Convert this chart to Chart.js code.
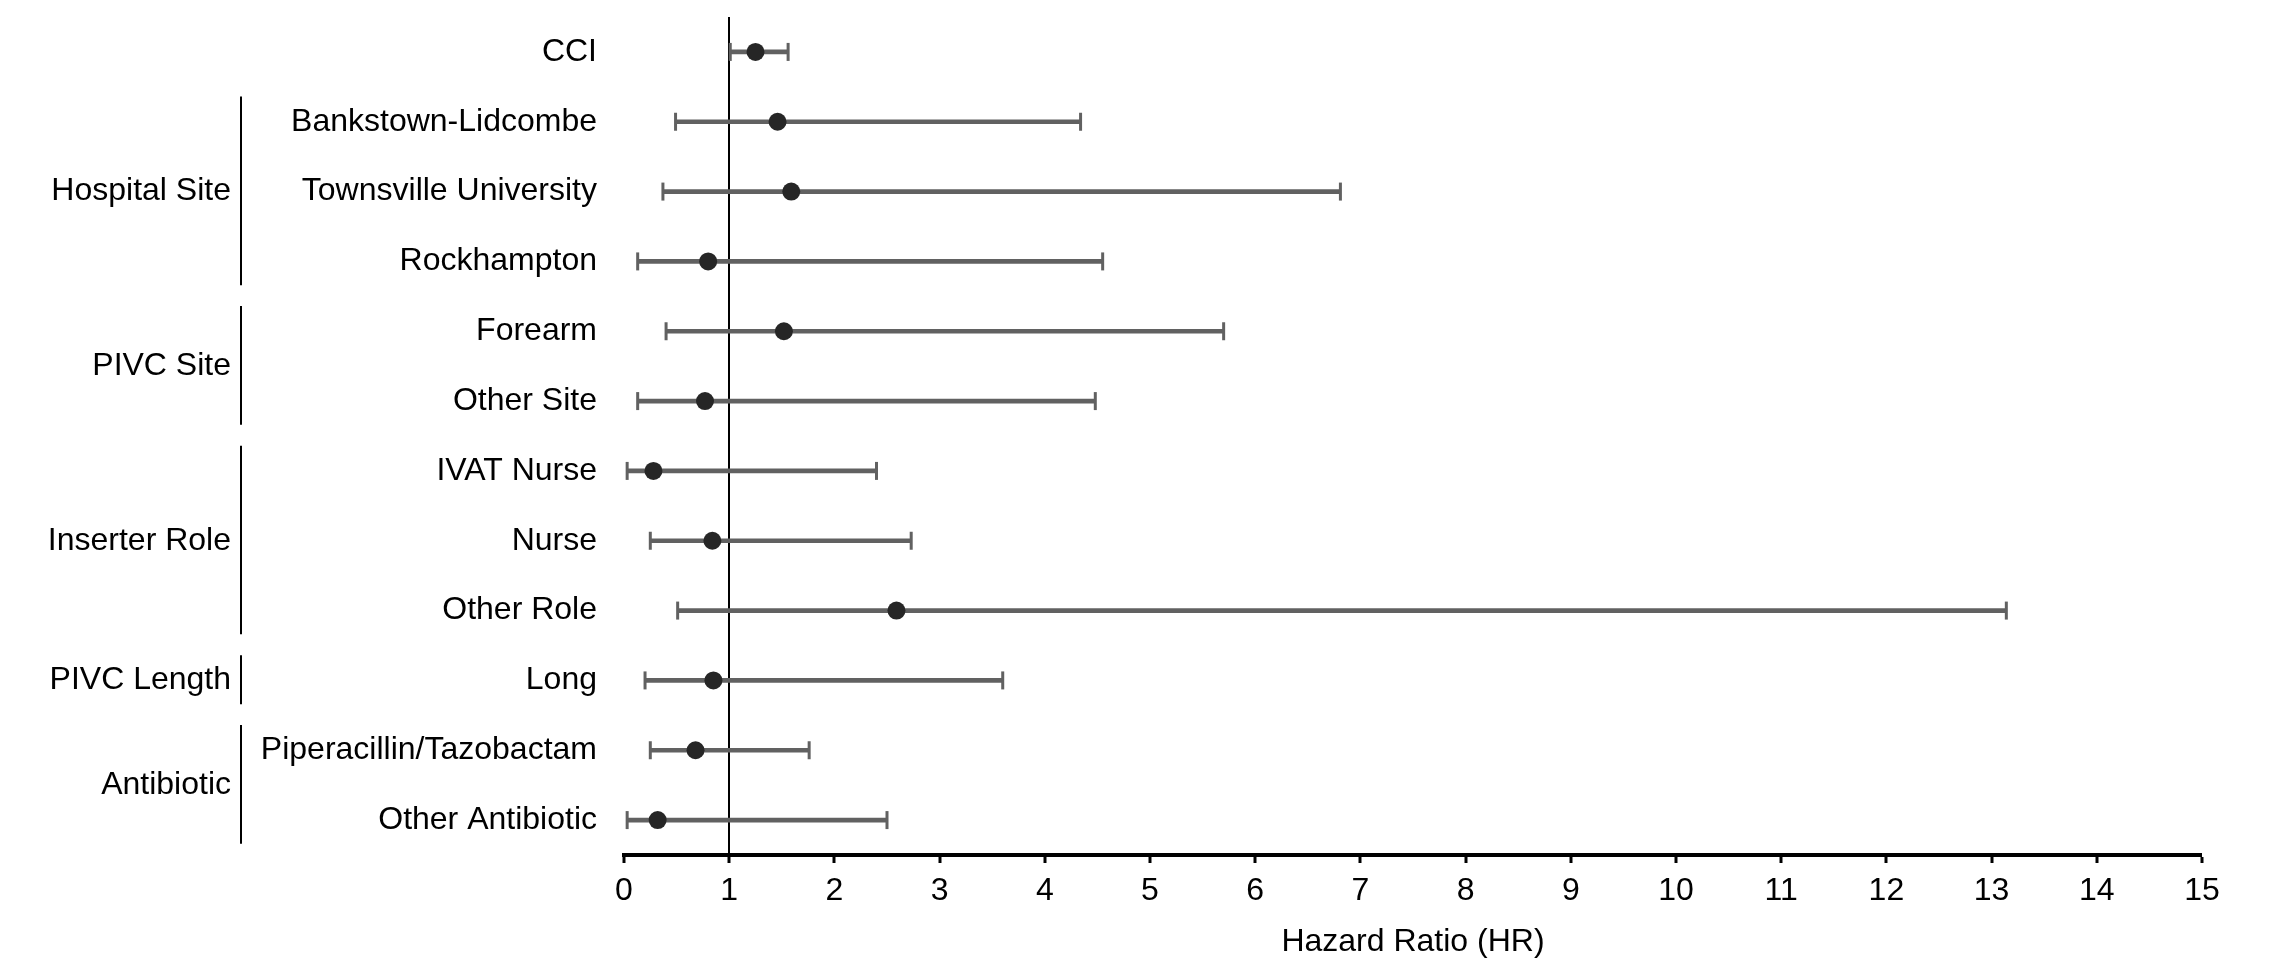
<!DOCTYPE html>
<html>
<head>
<meta charset="utf-8">
<script src="https://cdn.jsdelivr.net/npm/chart.js@4/dist/chart.umd.min.js"></script>
<style>
  html, body { margin: 0; padding: 0; background: #fff; }
  #wrap { width: 2292px; height: 980px; }
</style>
</head>
<body>
<div id="wrap"><canvas id="c" width="2292" height="980"></canvas></div>
<script>
const categories = ["CCI", "Bankstown-Lidcombe", "Townsville University", "Rockhampton", "Forearm", "Other Site", "IVAT Nurse", "Nurse", "Other Role", "Long", "Piperacillin/Tazobactam", "Other Antibiotic"];
const hazardRatio = [1.25, 1.46, 1.59, 0.80, 1.52, 0.77, 0.28, 0.84, 2.59, 0.85, 0.68, 0.32];
const ciLower     = [1.01, 0.49, 0.37, 0.13, 0.40, 0.13, 0.03, 0.25, 0.51, 0.20, 0.25, 0.03];
const ciUpper     = [1.56, 4.34, 6.81, 4.55, 5.70, 4.48, 2.40, 2.73, 13.14, 3.60, 1.76, 2.50];
const groupNames  = ["Hospital Site", "PIVC Site", "Inserter Role", "PIVC Length", "Antibiotic"];
const groupFirst  = ["Bankstown-Lidcombe", "Forearm", "IVAT Nurse", "Long", "Piperacillin/Tazobactam"];
const groupLast   = ["Rockhampton", "Other Site", "Other Role", "Long", "Other Antibiotic"];
const xTicks = [0,1,2,3,4,5,6,7,8,9,10,11,12,13,14,15];
const xTitle = "Hazard Ratio (HR)";

const FONT = "'Liberation Sans', Arial, sans-serif";
const FSIZE = 32;

const groupPlugin = {
  id: 'groups',
  afterDraw(chart) {
    const y = chart.scales.y;
    const ctx = chart.ctx;
    const band = y.getPixelForValue(1) - y.getPixelForValue(0);
    ctx.save();
    ctx.fillStyle = '#000';
    ctx.strokeStyle = '#000';
    ctx.lineWidth = 2;
    ctx.font = FSIZE + "px " + FONT;
    ctx.textAlign = 'right';
    ctx.textBaseline = 'middle';
    groupNames.forEach((g, i) => {
      const y0 = y.getPixelForValue(categories.indexOf(groupFirst[i]));
      const y1 = y.getPixelForValue(categories.indexOf(groupLast[i]));
      ctx.beginPath();
      ctx.moveTo(241, y0 - band * 0.36);
      ctx.lineTo(241, y1 + band * 0.34);
      ctx.stroke();
      ctx.fillText(g, 231, (y0 + y1) / 2);
    });
    ctx.restore();
  }
};

new Chart(document.getElementById('c'), {
  data: {
    labels: categories,
    datasets: [
      {
        type: 'scatter',
        label: 'HR',
        data: categories.map((c, i) => ({ x: hazardRatio[i], y: c })),
        pointRadius: 9,
        pointHoverRadius: 9,
        pointBackgroundColor: '#262626',
        pointBorderColor: '#262626',
        pointBorderWidth: 0,
        order: 0
      },
      {
        type: 'scatter',
        label: 'Lower',
        data: categories.map((c, i) => ({ x: ciLower[i], y: c })),
        pointStyle: 'line',
        rotation: 90,
        pointRadius: 9,
        pointBorderColor: '#616161',
        pointBorderWidth: 3,
        order: 1
      },
      {
        type: 'scatter',
        label: 'Upper',
        data: categories.map((c, i) => ({ x: ciUpper[i], y: c })),
        pointStyle: 'line',
        rotation: 90,
        pointRadius: 9,
        pointBorderColor: '#616161',
        pointBorderWidth: 3,
        order: 1
      },
      {
        type: 'bar',
        label: 'CI',
        indexAxis: 'y',
        data: categories.map((c, i) => [ciLower[i], ciUpper[i]]),
        backgroundColor: '#616161',
        borderWidth: 0,
        barThickness: 4,
        order: 2
      }
    ]
  },
  options: {
    responsive: false,
    animation: false,
    devicePixelRatio: 1,
    layout: { padding: { top: 17, right: 90, left: 0, bottom: 0 } },
    plugins: { legend: { display: false }, tooltip: { enabled: false } },
    scales: {
      x: {
        type: 'linear',
        position: 'bottom',
        min: 0,
        max: 15,
        z: 1,
        afterBuildTicks: (s) => { s.ticks = xTicks.map(v => ({ value: v })); },
        afterFit: (s) => { s.height = 125; s.paddingLeft = 0; s.paddingRight = 0; },
        ticks: { font: { size: FSIZE, family: FONT }, color: '#000', padding: 9 },
        grid: {
          color: (c) => (c.tick && c.tick.value === 1) ? '#000' : 'rgba(0,0,0,0)',
          lineWidth: (c) => (c.tick && c.tick.value === 1) ? 2 : 0,
          drawTicks: true,
          tickLength: 8,
          tickColor: '#000',
          tickWidth: 3
        },
        border: { display: true, color: '#000', width: 4 },
        title: {
          display: true,
          text: xTitle,
          font: { size: FSIZE, family: FONT },
          color: '#000',
          padding: { top: 0, bottom: 19 }
        }
      },
      y: {
        type: 'category',
        labels: categories,
        offset: true,
        afterFit: (s) => { s.width = 624; s.paddingTop = 0; s.paddingBottom = 0; },
        ticks: { font: { size: FSIZE, family: FONT }, color: '#000', padding: 27 },
        grid: { display: false, drawTicks: false },
        border: { display: false }
      }
    }
  },
  plugins: [groupPlugin]
});
</script>
</body>
</html>
